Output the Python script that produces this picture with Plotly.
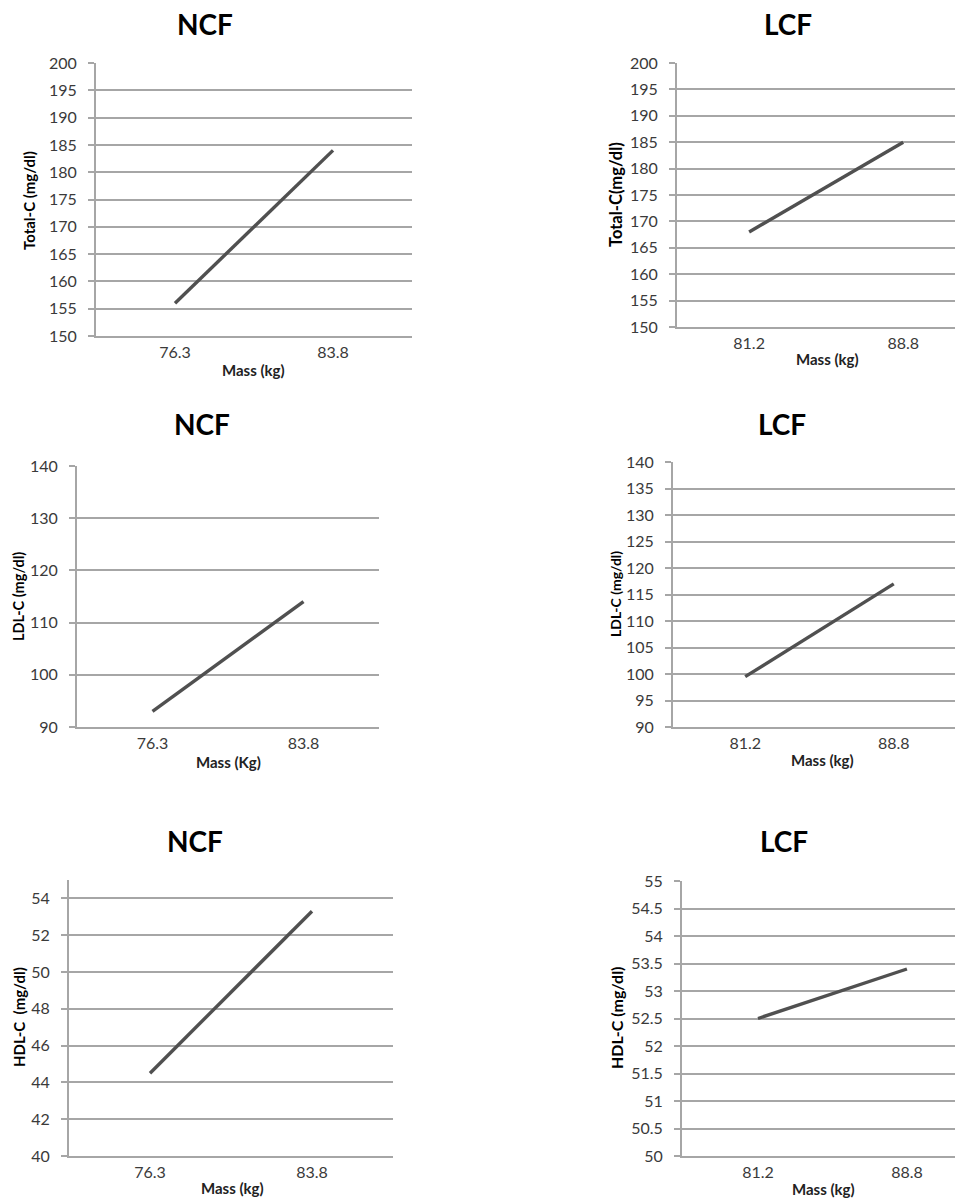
import plotly.graph_objects as go

W, H = 963, 1199
OFF = 8  # page body margin compensation

# ---- data ----
ncf_mass = ["76.3", "83.8"]
lcf_mass = ["81.2", "88.8"]
ncf_total_c = [156, 184]
lcf_total_c = [168, 185]
ncf_ldl_c = [93, 114]
lcf_ldl_c = [99.5, 117]
ncf_hdl_c = [44.5, 53.3]
lcf_hdl_c = [52.5, 53.4]

panel_titles = ["NCF", "LCF", "NCF", "LCF", "NCF", "LCF"]
y_titles = ["Total-C (mg/dl)", "Total-C(mg/dl)", "LDL-C (mg/dl)", "LDL-C (mg/dl)",
            "HDL-C  (mg/dl)", "HDL-C (mg/dl)"]
x_titles = ["Mass (kg)", "Mass (kg)", "Mass (Kg)", "Mass (kg)", "Mass (kg)", "Mass (kg)"]

series = [
    (ncf_mass, ncf_total_c), (lcf_mass, lcf_total_c),
    (ncf_mass, ncf_ldl_c), (lcf_mass, lcf_ldl_c),
    (ncf_mass, ncf_hdl_c), (lcf_mass, lcf_hdl_c),
]

# layout geometry in pixels: left, right, top, bottom
boxes = [
    (96, 412, 63, 336),
    (677, 971, 63, 327),
    (77, 379, 466, 727),
    (673, 971, 462, 727),
    (69, 393, 880, 1156),
    (682, 971, 881, 1156),
]
xranges = [[-0.5, 1.5], [-0.468, 1.44], [-0.5, 1.5], [-0.486, 1.52], [-0.5, 1.5], [-0.51, 1.43]]
yaxes_cfg = [
    dict(range=[150, 200], dtick=5, tick0=150),
    dict(range=[150, 200], dtick=5, tick0=150),
    dict(range=[90, 140], dtick=10, tick0=90),
    dict(range=[90, 140], dtick=5, tick0=90),
    dict(range=[40, 55], tickvals=[40, 42, 44, 46, 48, 50, 52, 54]),
    dict(range=[50, 55], dtick=0.5, tick0=50),
]
# annotation positions (pixels)
title_pos = [(205, 24), (788, 24), (202, 424), (782, 424), (195, 841), (784, 841)]
ytitle_pos = [(29, 201), (616, 195), (18, 597), (615, 594), (19, 1017), (616, 1018)]
ytitle_size = [15, 16.5, 14.5, 14, 15, 16]
xtitle_pos = [(253, 370), (827, 359), (228, 762), (822, 760), (232, 1188), (823, 1189)]

FONT = "Lato"
GRID = "#a6a6a6"
LINE = "#505050"
TICKC = "#3a3a3a"

fig = go.Figure()
layout = dict(
    width=W, height=H, margin=dict(l=0, r=0, t=0, b=0, pad=0, autoexpand=False),
    paper_bgcolor="white", plot_bgcolor="white", showlegend=False,
    font=dict(family=FONT, color=TICKC, size=16),
)
annotations = []

def px(x):
    return (x - OFF) / W

def py(y):
    return 1 - (y - OFF) / H

for i, ((xs, ys), (l, r, t, b)) in enumerate(zip(series, boxes)):
    n = i + 1
    xa = "x" if n == 1 else f"x{n}"
    ya = "y" if n == 1 else f"y{n}"
    fig.add_trace(go.Scatter(x=xs, y=ys, mode="lines", xaxis=xa, yaxis=ya,
                             line=dict(color=LINE, width=3.4)))
    xkey = "xaxis" if n == 1 else f"xaxis{n}"
    ykey = "yaxis" if n == 1 else f"yaxis{n}"
    layout[xkey] = dict(
        domain=[px(l), min(px(r), 1.0)], anchor=ya, type="category",
        range=xranges[i], showgrid=False, showline=True, linecolor=GRID, linewidth=2,
        ticks="", tickfont=dict(family=FONT, size=16, color=TICKC),
        ticklabelstandoff=1, fixedrange=True, automargin=False,
    )
    ycfg = dict(
        domain=[py(b), py(t)], anchor=xa, showgrid=True, gridcolor=GRID, gridwidth=2,
        showline=True, linecolor=GRID, linewidth=2, ticks="outside", ticklen=6,
        tickcolor=GRID, tickwidth=2, zeroline=False,
        tickfont=dict(family=FONT, size=16, color=TICKC),
        ticklabelstandoff=8, fixedrange=True, automargin=False,
    )
    ycfg.update(yaxes_cfg[i])
    layout[ykey] = ycfg

    tx, ty = title_pos[i]
    annotations.append(dict(x=px(tx), y=py(ty), xref="paper", yref="paper",
                            text="<b>%s</b>" % panel_titles[i], showarrow=False,
                            font=dict(family=FONT, size=28, color="black"),
                            xanchor="center", yanchor="middle"))
    yx, yy = ytitle_pos[i]
    annotations.append(dict(x=px(yx), y=py(yy), xref="paper", yref="paper",
                            text="<b>%s</b>" % y_titles[i], showarrow=False, textangle=-90,
                            font=dict(family=FONT, size=ytitle_size[i], color="black"),
                            xanchor="center", yanchor="middle"))
    xx, xy = xtitle_pos[i]
    annotations.append(dict(x=px(xx), y=py(xy), xref="paper", yref="paper",
                            text="<b>%s</b>" % x_titles[i], showarrow=False,
                            font=dict(family=FONT, size=15, color="#222222"),
                            xanchor="center", yanchor="middle"))

layout["annotations"] = annotations
fig.update_layout(**layout)
fig.write_html("out.html")
